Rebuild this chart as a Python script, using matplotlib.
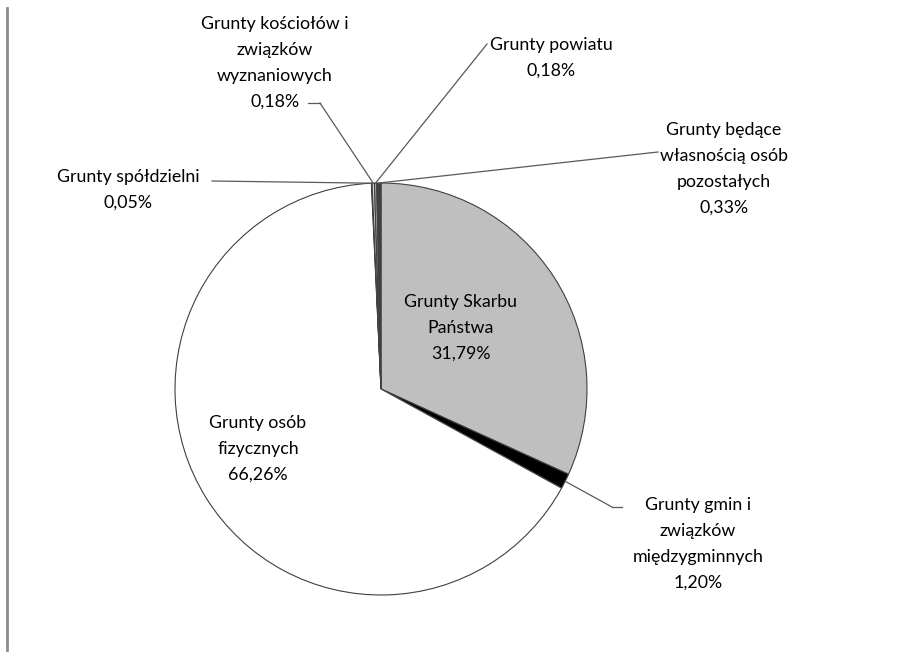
import matplotlib
matplotlib.use("Agg")
import matplotlib.pyplot as plt
import numpy as np

labels = ["Grunty Skarbu\nPaństwa", "Grunty gmin i\nzwiązków\nmiędzygminnych",
          "Grunty osób\nfizycznych", "Grunty spółdzielni",
          "Grunty kościołów i\nzwiązków\nwyznaniowych", "Grunty powiatu",
          "Grunty będące\nwłasnością osób\npozostałych"]
values = [31.79, 1.20, 66.26, 0.05, 0.18, 0.18, 0.33]
value_text = ["31,79%", "1,20%", "66,26%", "0,05%", "0,18%", "0,18%", "0,33%"]
colors = ["#bfbfbf", "#000000", "#ffffff", "#7f7f7f", "#d9d9d9", "#a6a6a6", "#404040"]

W, H = 903, 657
fig = plt.figure(figsize=(W / 100, H / 100), dpi=100)
ax = fig.add_axes([0, 0, 1, 1])
plt.rcParams['font.family'] = ['Lato', 'DejaVu Sans']

cx, cy, R = 381, H - 389, 206
wedges, _ = ax.pie(values, center=(cx, cy), radius=R, startangle=90,
                   counterclock=False, colors=colors,
                   wedgeprops=dict(edgecolor="#404040", linewidth=0.8))
ax.set_xlim(0, W)
ax.set_ylim(0, H)
ax.set_aspect("auto")
ax.axis("off")

# label text centres (pixel coords, y from top) and leader line start (None = inside)
label_pos = [(461, 328), (698, 544), (258, 449), (128, 190), (275, 63), (551, 58), (724, 169)]
leader_end = [None, (612, 507), None, (212, 181), (320, 103), (487, 44), (658, 152)]
leader_hook = [None, (622, 507), None, None, (308, 103), None, None]
fs = 12.8
for i, w in enumerate(wedges):
    x, y = label_pos[i]
    ax.text(x, H - y, labels[i] + "\n" + value_text[i], ha="center", va="center",
            fontsize=fs, color="#000000", linespacing=1.75)
    if leader_end[i] is not None:
        ang = np.deg2rad((w.theta1 + w.theta2) / 2)
        px, py = cx + R * np.cos(ang), cy + R * np.sin(ang)
        ex, ey = leader_end[i]
        ax.plot([px, ex], [py, H - ey], color="#595959", lw=0.9)
        if leader_hook[i] is not None:
            hx, hy = leader_hook[i]
            ax.plot([ex, hx], [H - ey, H - hy], color="#595959", lw=0.9)

# left border line
ax.plot([7, 7], [H - 8, H - 650], color="#8c8c8c", lw=2)

fig.savefig("out.png", dpi=100)
